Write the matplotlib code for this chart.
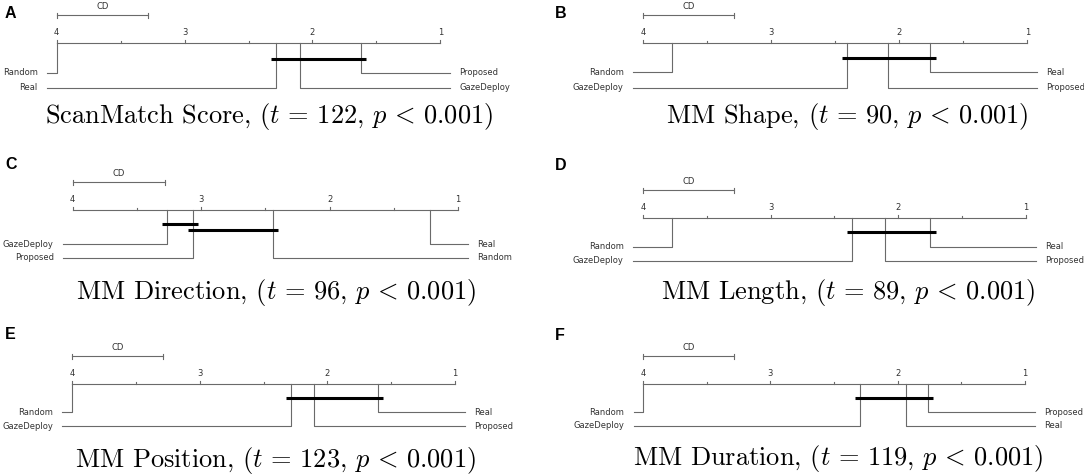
import matplotlib.pyplot as plt

W, H = 1084, 475

letters = ["A", "B", "C", "D", "E", "F"]
metrics = ["ScanMatch Score", "MM Shape", "MM Direction", "MM Length", "MM Position", "MM Duration"]
t_values = [122, 90, 96, 89, 123, 119]
p_label = "0.001"

methods = ["Random", "Real", "GazeDeploy", "Proposed"]
# average ranks, same order as methods
ranks_A = [4.000, 2.285, 2.095, 1.620]
ranks_B = [3.775, 1.756, 2.404, 2.084]
ranks_C = [2.443, 1.216, 3.266, 3.063]
ranks_D = [3.774, 1.748, 2.365, 2.104]
ranks_E = [4.000, 1.607, 2.287, 2.107]
ranks_F = [4.000, 1.936, 2.299, 1.761]
all_ranks = [ranks_A, ranks_B, ranks_C, ranks_D, ranks_E, ranks_F]

# groups with no significant difference
cliques_A = [["Real", "GazeDeploy", "Proposed"]]
cliques_B = [["GazeDeploy", "Proposed", "Real"]]
cliques_C = [["GazeDeploy", "Proposed"], ["Proposed", "Random"]]
cliques_D = [["GazeDeploy", "Proposed", "Real"]]
cliques_E = [["GazeDeploy", "Proposed", "Real"]]
cliques_F = [["GazeDeploy", "Real", "Proposed"]]
all_cliques = [cliques_A, cliques_B, cliques_C, cliques_D, cliques_E, cliques_F]

cd = 0.715
lowv, highv = 1, 4

# layout in figure pixels (y from the top)
layout = [
    dict(ax0=56.7, ax1=440.3, y_axis=42.7, y_bars=[58.7], y_rows=[72.7, 87.7], title=(269, 116.5), letter=(5, 6.5)),
    dict(ax0=642.8, ax1=1027.4, y_axis=42.7, y_bars=[58.3], y_rows=[72.4, 87.5], title=(847, 116), letter=(555, 6.5)),
    dict(ax0=72.7, ax1=458.0, y_axis=209.8, y_bars=[223.8, 230.3], y_rows=[244.2, 257.5], title=(276, 293), letter=(5, 157)),
    dict(ax0=642.8, ax1=1026.0, y_axis=217.7, y_bars=[232], y_rows=[246.7, 260.7], title=(848, 292.5), letter=(555, 158)),
    dict(ax0=71.9, ax1=455.2, y_axis=384.0, y_bars=[398.3], y_rows=[412.3, 426.3], title=(275, 460), letter=(5, 327)),
    dict(ax0=643.1, ax1=1025.0, y_axis=383.7, y_bars=[398], y_rows=[412.3, 426], title=(838, 459), letter=(555, 328)),
]

line_c = "#6a6a6a"
text_c = "#333333"
small = 6

plt.rcParams["mathtext.fontset"] = "cm"

fig = plt.figure(figsize=(W / 100, H / 100), dpi=100)


def draw_panel(ranks, cliques, lay):
    ax = fig.add_axes([lay["ax0"] / W, 0, (lay["ax1"] - lay["ax0"]) / W, 1])
    ax.set_xlim(highv, lowv)
    ax.set_ylim(H, 0)
    ax.axis("off")
    px = (lay["ax1"] - lay["ax0"]) / (highv - lowv)  # pixels per rank unit
    ya = lay["y_axis"]

    # rank axis with ticks
    ax.plot([highv, lowv], [ya, ya], color=line_c, lw=0.8, clip_on=False)
    v = highv
    while v >= lowv:
        tl = 3 if v == int(v) else 2
        ax.plot([v, v], [ya, ya - tl], color=line_c, lw=0.8, clip_on=False)
        if v == int(v):
            ax.text(v, ya - 10.5, str(int(v)), ha="center", va="center", fontsize=small, color=text_c)
        v -= 0.5

    # CD bar
    ycd = ya - 27.7
    ax.plot([highv, highv - cd], [ycd, ycd], color=line_c, lw=0.8, clip_on=False)
    for e in [highv, highv - cd]:
        ax.plot([e, e], [ycd - 2.5, ycd + 2.5], color=line_c, lw=0.8, clip_on=False)
    ax.text(highv - cd / 2, ycd - 8.3, "CD", ha="center", va="center", fontsize=small, color=text_c)

    # method lines and labels
    order = sorted(range(len(methods)), key=lambda i: -ranks[i])
    half = len(order) // 2
    left = order[:half]
    right = order[half:][::-1]
    gap = 9.5 / px
    for row, i in enumerate(left):
        y = lay["y_rows"][row]
        r = ranks[i]
        ax.plot([r, r, highv + gap], [ya, y, y], color=line_c, lw=0.8, clip_on=False)
        ax.text(highv + 2 * gap, y, methods[i], ha="right", va="center", fontsize=small, color=text_c)
    for row, i in enumerate(right):
        y = lay["y_rows"][row]
        r = ranks[i]
        ax.plot([r, r, lowv - gap], [ya, y, y], color=line_c, lw=0.8, clip_on=False)
        ax.text(lowv - 2 * gap, y, methods[i], ha="left", va="center", fontsize=small, color=text_c)

    # cliques
    ext = 0.04
    for k, cl in enumerate(cliques):
        rr = [ranks[methods.index(m)] for m in cl]
        y = lay["y_bars"][k]
        ax.plot([max(rr) + ext, min(rr) - ext], [y, y], color="black", lw=2.2, clip_on=False,
                solid_capstyle="butt")


for n in range(6):
    lay = layout[n]
    draw_panel(all_ranks[n], all_cliques[n], lay)
    title = metrics[n] + r", ($t\,=\,%d$, $p\,<\,%s$)" % (t_values[n], p_label)
    fig.text(lay["title"][0] / W, 1 - lay["title"][1] / H, title, ha="center", va="center",
             fontsize=19, family="cmr10", color="black")
    fig.text(lay["letter"][0] / W, 1 - lay["letter"][1] / H, letters[n], ha="left", va="top",
             fontsize=11.5, fontweight="bold", family="Liberation Sans", color="black")

fig.savefig("out.png", dpi=100)
